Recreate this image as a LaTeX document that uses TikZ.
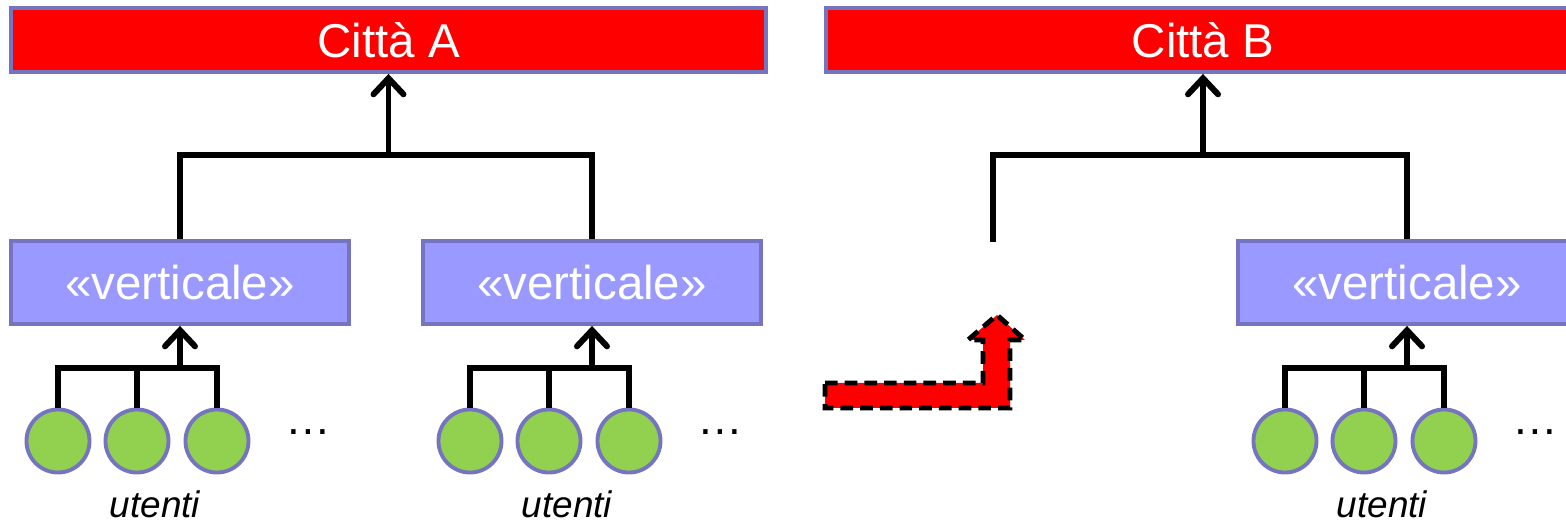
\documentclass[tikz,border=0pt]{standalone}
\usepackage{fontspec}
\setmainfont{Liberation Sans}
\usetikzlibrary{arrows.meta}

\definecolor{cityred}{RGB}{255,0,0}
\definecolor{vertblue}{RGB}{153,153,255}
\definecolor{edgeblue}{RGB}{116,116,192}
\definecolor{usergreen}{RGB}{146,208,80}

\tikzset{
    city/.style={draw=edgeblue, fill=cityred, line width=1.1pt, minimum width=7.54cm, minimum height=0.64cm, text=white, font=\fontsize{13.5}{16}\selectfont},
    vert/.style={draw=edgeblue, fill=vertblue, line width=1.1pt, minimum width=3.37cm, minimum height=0.83cm, text=white, font=\fontsize{13.5}{16}\selectfont},
    user/.style={circle, draw=edgeblue, fill=usergreen, line width=1.1pt, minimum size=0.63cm, inner sep=0pt},
    wire/.style={line width=1.7pt},
    up/.style={wire, -{Straight Barb[length=1.6mm, width=3mm, line cap=round]}},
}

\begin{document}
\begin{tikzpicture}[x=0.01cm, y=-0.01cm]
    \clip (0,0) rectangle (1566,525);
    \useasboundingbox (0,0) rectangle (1566,525);

    \node[city] (cityA) at (388.5,40) {Città A};
    \node[city] (cityB) at (1203,40) {Città B};

    \node[vert] (v1) at (180,282.5) {«verticale»};
    \node[vert] (v2) at (592,282.5) {«verticale»};
    \node[vert] (v3) at (1407,282.5) {«verticale»};

    % users under each vertical
    \foreach \g/\cx in {1/180, 2/592, 3/1407} {
        \coordinate (j\g) at (\cx,368);
        \node[user] (u\g a) at (\cx-122,441) {};
        \node[user] (u\g b) at (\cx-43,441) {};
        \node[user] (u\g c) at (\cx+37,441) {};
        \node (dots\g) at (\cx+128,432) {\fontsize{13}{15}\selectfont\dots};
        \node (lab\g) at (\cx-25,504) {\fontsize{10.5}{13}\selectfont\itshape utenti};
        \draw[wire] (u\g a.north) |- (j\g) -| (u\g c.north);
        \draw[wire] (u\g b.north) -- (u\g b.north |- j\g);
        \draw[up] (j\g) -- (v\g.south);
    }

    % city A
    \coordinate (jA) at (388.5,155);
    \draw[wire] (v1.north) |- (jA) -| (v2.north);
    \draw[up] (jA) -- (cityA.south);

    % city B
    \coordinate (jB) at (1203,155);
    \coordinate (free) at (993,242);
    \draw[wire] (free) |- (jB) -| (v3.north);
    \draw[up] (jB) -- (cityB.south);

    % move
    \filldraw[fill=cityred, draw=black, line width=1.4pt, dash pattern=on 3.6pt off 2pt]
        (825,383) -- (983,383) -- (983,340) -- (968,340) -- (997,315) -- (1025,340)
        -- (1010,340) -- (1010,408) -- (825,408) -- cycle;
\end{tikzpicture}
\end{document}
